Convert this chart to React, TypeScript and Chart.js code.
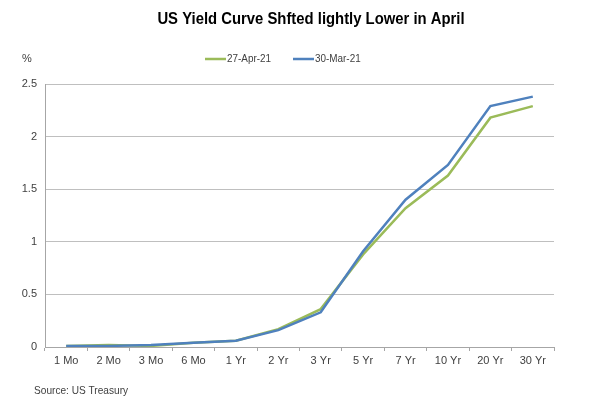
import React, { useEffect, useRef } from "react";
import { Chart, registerables } from "chart.js";

Chart.register(...registerables);

const categories = ["1 Mo", "2 Mo", "3 Mo", "6 Mo", "1 Yr", "2 Yr", "3 Yr", "5 Yr", "7 Yr", "10 Yr", "20 Yr", "30 Yr"];
const apr27 = [0.01, 0.02, 0.01, 0.04, 0.06, 0.17, 0.36, 0.88, 1.32, 1.63, 2.18, 2.29];
const mar30 = [0.01, 0.01, 0.02, 0.04, 0.06, 0.16, 0.33, 0.91, 1.40, 1.73, 2.29, 2.38];
const seriesNames = ["27-Apr-21", "30-Mar-21"];
const seriesColors = ["#9BBB59", "#4F81BD"];
const titleText = "US Yield Curve Shfted lightly Lower in April";
const unitText = "%";
const sourceText = "Source: US Treasury";
const FONT = "'Liberation Sans', Arial, sans-serif";

const textPlugin = {
  id: "textPlugin",
  afterDraw(chart: any) {
    const ctx = chart.ctx;
    ctx.save();
    // title
    ctx.fillStyle = "#000000";
    ctx.font = `bold 16.5px ${FONT}`;
    ctx.textBaseline = "middle";
    ctx.textAlign = "center";
    ctx.save();
    ctx.translate(311, 19);
    ctx.scale(0.9, 1);
    ctx.fillText(titleText, 0, 0);
    ctx.restore();
    // unit
    ctx.fillStyle = "#404040";
    ctx.font = `11px ${FONT}`;
    ctx.textAlign = "left";
    ctx.fillText(unitText, 22, 59);
    // legend
    const legendX = [205, 293];
    chart.data.datasets.forEach((ds: any, i: number) => {
      const x = legendX[i];
      ctx.strokeStyle = ds.borderColor;
      ctx.lineWidth = 2.5;
      ctx.beginPath();
      ctx.moveTo(x, 59);
      ctx.lineTo(x + 21, 59);
      ctx.stroke();
      ctx.fillStyle = "#404040";
      ctx.save();
      ctx.translate(x + 22, 59);
      ctx.scale(0.9, 1);
      ctx.fillText(ds.label, 0, 0);
      ctx.restore();
    });
    // source
    ctx.fillStyle = "#404040";
    ctx.save();
    ctx.translate(34, 391);
    ctx.scale(0.92, 1);
    ctx.fillText(sourceText, 0, 0);
    ctx.restore();
    ctx.restore();
  },
};

export default function App() {
  const ref = useRef<HTMLCanvasElement | null>(null);
  useEffect(() => {
    if (!ref.current) return;
    const chart = new Chart(ref.current, {
      type: "line",
      data: {
        labels: categories,
        datasets: [
          {
            label: seriesNames[0],
            data: apr27,
            borderColor: seriesColors[0],
            backgroundColor: seriesColors[0],
            borderWidth: 2.5,
            pointRadius: 0,
            tension: 0,
            order: 2,
          },
          {
            label: seriesNames[1],
            data: mar30,
            borderColor: seriesColors[1],
            backgroundColor: seriesColors[1],
            borderWidth: 2.5,
            pointRadius: 0,
            tension: 0,
            order: 1,
          },
        ],
      },
      options: {
        animation: false,
        responsive: false,
        devicePixelRatio: 1,
        layout: { padding: { left: 0, right: 46, top: 84, bottom: 0 } },
        plugins: {
          legend: { display: false },
          title: { display: false },
          tooltip: { enabled: false },
        },
        scales: {
          x: {
            offset: true,
            afterFit: (s: any) => { s.height = 58; },
            grid: {
              offset: true,
              drawOnChartArea: false,
              drawTicks: true,
              tickLength: 4,
              color: "#a6a6a6",
            },
            border: { color: "#a6a6a6", width: 1 },
            ticks: {
              color: "#404040",
              font: { family: FONT, size: 11 },
              padding: 3,
              maxRotation: 0,
              autoSkip: false,
            },
          },
          y: {
            min: 0,
            max: 2.5,
            afterFit: (s: any) => { s.width = 45; },
            grid: { color: "#bfbfbf", drawTicks: false, lineWidth: 1 },
            border: { color: "#a6a6a6", width: 1 },
            ticks: {
              stepSize: 0.5,
              color: "#404040",
              font: { family: FONT, size: 11 },
              padding: 8,
              callback: (v: any) => String(v),
            },
          },
        },
      },
      plugins: [textPlugin],
    });
    return () => chart.destroy();
  }, []);
  return (
    <div style={{ position: "absolute", left: 0, top: 0, width: 600, height: 405, background: "#ffffff" }}>
      <canvas ref={ref} width={600} height={405} style={{ width: 600, height: 405 }} />
    </div>
  );
}
